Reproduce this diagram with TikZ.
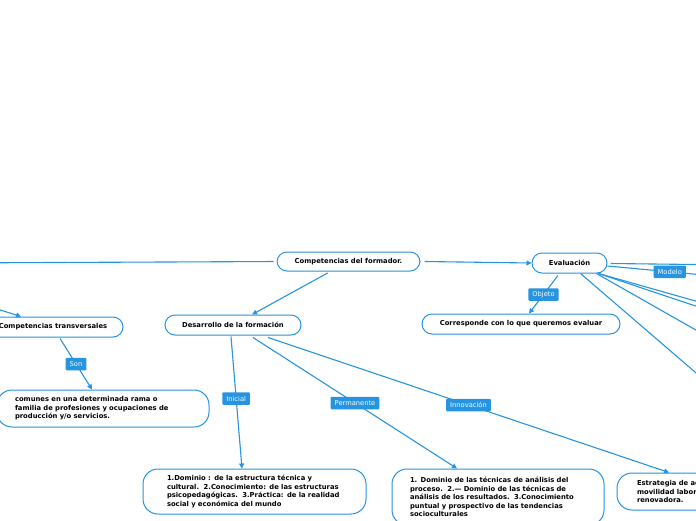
\documentclass[tikz,border=0pt]{standalone}
\usepackage{fontspec}
\setmainfont{DejaVu Sans}
\usetikzlibrary{arrows.meta,calc}
\definecolor{mmblue}{RGB}{38,148,224}
\begin{document}
\begin{tikzpicture}[x=1pt,y=-1pt,
  topic/.style={draw=mmblue, line width=1pt, fill=white, rounded corners=10pt,
    font=\fontsize{6.8}{8.6}\selectfont\bfseries, inner sep=0pt, align=center},
  para/.style={topic, align=left, text width=#1, rounded corners=15pt},
  conn/.style={draw=mmblue, line width=1.1pt, -{Triangle[length=5pt,width=5pt]}},
  lab/.style={fill=mmblue, text=white, font=\fontsize{6.7}{7}\selectfont,
    inner xsep=4pt, inner ysep=0pt, minimum height=12.5pt, rounded corners=1pt},
]
\useasboundingbox (0,0) rectangle (696,520);

% nodes
\node[topic, minimum width=143pt, minimum height=19pt] (formador) at (348.5,261.5) {Competencias del formador.};
\node[topic, minimum width=75pt, minimum height=20pt] (eval) at (569.5,263) {Evaluación};
\node[topic, minimum width=136pt, minimum height=20pt] (desarrollo) at (233,325) {Desarrollo de la formación};
\node[topic, minimum width=140pt, minimum height=20pt] (transv) at (53,327) {Competencias transversales};
\node[topic, minimum width=198pt, minimum height=20pt] (corresp) at (521,324) {Corresponde con lo que queremos evaluar};
\node[para=176pt, minimum width=212pt, minimum height=37pt] (comunes) at (103,408.5)
  {comunes en una determinada rama o\\familia de profesiones y ocupaciones de\\producción y/o servicios.};
\node[para=175pt, minimum width=223pt, minimum height=45pt] (inicial) at (254.5,491.5)
  {1.Dominio : de la estructura técnica y\\cultural.\ \ 2.Conocimiento: de las estructuras\\psicopedagógicas.\ \ 3.Práctica: de la realidad\\social y económica del mundo};
\node[para=176pt, minimum width=212pt, minimum height=56pt] (perman) at (498,497)
  {1. Dominio de las técnicas de análisis del\\proceso.\ \ 2.— Dominio de las técnicas de\\análisis de los resultados.\ \ 3.Conocimiento\\puntual y prospectivo de las tendencias\\socioculturales};
\node[para=172pt, minimum width=212pt, minimum height=37pt] (innov) at (723,491.5)
  {Estrategia de adaptación a la\\movilidad laboral y formación\\renovadora.};

% off-screen ends
\coordinate (farL) at (-60,263);
\coordinate (farT) at (-60,291);
\coordinate (farR1) at (780,265.5);
\coordinate (farR2) at (740,278.4);
\coordinate (farR3) at (760,319.3);
\coordinate (farR4) at (760,327.6);
\coordinate (farR5) at (760,366.5);
\coordinate (farR6) at (760,428);

% connectors
\draw[conn, shorten <=3pt] (formador.west) -- (farL);
\draw[conn] ([xshift=4pt]formador.east) -- (eval.west);
\draw[conn, shorten <=3pt] (formador) -- (desarrollo);
\draw[conn] (farT) -- ([xshift=-32pt]transv.north);
\draw[conn] ([xshift=7pt,yshift=-1pt]transv.south) -- node[lab]{Son} ([xshift=-11pt]comunes.north);
\draw[conn] ([xshift=-2pt,yshift=-1pt]desarrollo.south) -- node[lab, pos=0.47]{Inicial} ([xshift=-12.5pt]inicial.north);
\draw[conn] ([xshift=20pt,yshift=-2pt]desarrollo.south) -- node[lab]{Permanente} ([xshift=-41pt]perman.north);
\draw[conn] ([xshift=35pt,yshift=-2pt]desarrollo.south) -- node[lab]{Innovación} ([xshift=-54pt]innov.north);
\draw[conn] ([xshift=-11.5pt,yshift=-2pt]eval.south) -- node[lab]{Objeto} ([xshift=8pt]corresp.north);
\draw[conn] ([xshift=3pt,yshift=-0.5pt]eval.east) -- (farR1);
\draw[conn] ([yshift=-3pt]eval.east) -- node[lab, pos=0.47]{Modelo} (farR2);
\draw[conn] ([xshift=-9pt]eval.south east) -- (farR3);
\draw[conn] ([xshift=-9pt]eval.south east) -- (farR4);
\draw[conn] ([xshift=-11pt]eval.south east) -- (farR5);
\draw[conn] ([xshift=-27pt]eval.south east) -- (farR6);
\end{tikzpicture}
\end{document}
